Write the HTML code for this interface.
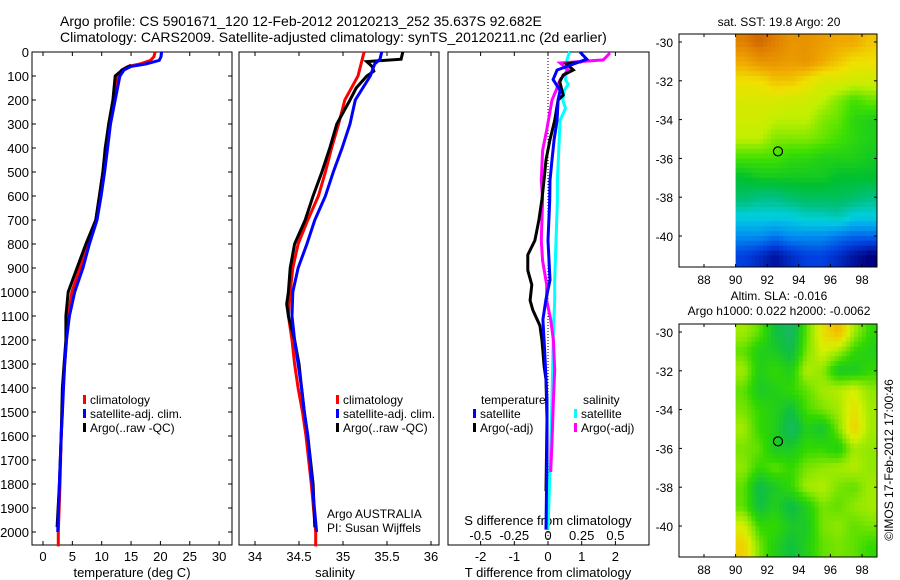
<!DOCTYPE html>
<html><head><meta charset="utf-8">
<style>
html,body{margin:0;padding:0;background:#fff;}
svg{display:block;font-family:"Liberation Sans",sans-serif;}
</style></head>
<body>
<svg id="fig" width="900" height="580" viewBox="0 0 900 580" xmlns="http://www.w3.org/2000/svg">
<text x="60" y="26" font-size="14">Argo profile: CS 5901671_120 12-Feb-2012 20120213_252 35.637S 92.682E</text>
<text x="60" y="42" font-size="14">Climatology: CARS2009. Satellite-adjusted climatology: synTS_20120211.nc (2d earlier)</text>
</svg>
<script>
// ---------- data ----------
const depthTicks = [0,100,200,300,400,500,600,700,800,900,1000,1100,1200,1300,1400,1500,1600,1700,1800,1900,2000];
const tempTicks = [0,5,10,15,20,25,30];
const salTicks = [34,34.5,35,35.5,36];
const salTickLabels = ["34","34.5","35","35.5","36"];
const tdiffTicks = [-2,-1,0,1,2];
const sdiffTicks = [-0.5,-0.25,0,0.25,0.5];
const sdiffTickLabels = ["-0.5","-0.25","0","0.25","0.5"];

const tClimDepth = [0,20,35,50,60,75,100,200,300,400,500,600,700,800,900,1000,1100,1200,1300,1400,1500,1600,1800,2000,2060];
const tClim = [19.1,18.9,18.3,16.5,14.5,13.4,12.8,12.0,11.2,10.7,10.2,9.6,9.0,7.5,6.3,4.9,4.3,4.0,3.7,3.4,3.3,3.1,2.9,2.6,2.6];
const tSatDepth = [0,20,35,50,60,75,100,200,300,400,500,600,700,800,900,1000,1100,1200,1300,1400,1500,1600,1800,2000];
const tSat = [20.2,20.1,19.8,17.5,15.0,13.8,13.1,12.3,11.5,11.0,10.5,9.9,9.2,7.9,6.8,5.4,4.5,4.0,3.7,3.5,3.3,3.1,2.8,2.5];
const tArgoDepth = [55,75,100,200,300,400,500,600,700,800,900,1000,1100,1200,1300,1400,1500,1600,1800,1980];
const tArgo = [15.0,13.5,12.3,11.9,11.2,10.6,10.2,9.6,9.0,7.3,5.8,4.3,3.9,3.9,3.6,3.3,3.2,3.1,2.8,2.4];

const sClimDepth = [0,100,200,300,400,500,600,700,800,900,1000,1100,1200,1300,1400,1500,1600,1800,2000,2060];
const sClim = [35.24,35.17,35.02,34.95,34.87,34.80,34.72,34.60,34.49,34.43,34.40,34.38,34.42,34.45,34.49,34.54,34.58,34.64,34.69,34.69];
const sSatDepth = [0,30,50,100,200,300,400,500,600,700,800,900,1000,1100,1200,1300,1400,1500,1600,1800,2000];
const sSat = [35.44,35.42,35.36,35.31,35.14,35.08,34.99,34.89,34.80,34.68,34.59,34.49,34.43,34.42,34.45,34.49,34.53,34.56,34.60,34.65,34.70];
const sArgoDepth = [0,30,40,60,80,100,150,200,300,400,500,600,700,800,900,1000,1050,1100,1200,1300,1400,1500,1600,1800,1980];
const sArgo = [35.68,35.66,35.27,35.33,35.35,35.27,35.15,35.08,34.93,34.85,34.76,34.66,34.57,34.45,34.40,34.38,34.36,34.38,34.45,34.50,34.53,34.56,34.60,34.66,34.68];

const dTSatDepth = [0,30,75,115,160,200,285,365,450,535,620,785,950,1030,1115,1240,1450,1660,1990];
const dTSat = [0.95,1.15,0.27,0.15,0.36,0.30,0.27,0.18,0.12,0.06,0.05,0.0,0.06,-0.06,-0.15,-0.10,-0.03,-0.03,-0.06];
const dTArgoDepth = [40,50,75,96,125,180,200,285,365,450,535,615,700,785,845,910,970,1035,1075,1140,1200,1245,1305,1365,1530,1830];
const dTArgo = [1.0,0.55,0.75,0.45,0.35,0.45,0.30,0.20,0.06,-0.06,-0.12,-0.18,-0.27,-0.39,-0.60,-0.60,-0.48,-0.53,-0.45,-0.24,-0.18,-0.15,-0.12,-0.06,-0.03,-0.06];
const dSSatDepth = [0,33,115,135,160,200,235,285,535,615,950,1035,1160,1450,1650,1990];
const dSSat = [0.16,0.14,0.13,0.15,0.12,0.11,0.13,0.09,0.07,0.07,0.05,0.05,0.04,0.03,0.02,0.0];
const dSArgoDepth = [4,33,46,75,115,160,200,325,410,535,615,785,870,970,1035,1115,1200,1325,1450,1625,1750];
const dSArgo = [0.46,0.41,0.09,0.15,0.09,0.06,0.03,-0.01,-0.04,-0.05,-0.04,-0.05,-0.04,-0.01,-0.01,0.02,0.04,0.05,0.04,0.03,0.02];

const lonTicks = [88,90,92,94,96,98];
const latTicks = [-30,-32,-34,-36,-38,-40];
const gridLats = [-30,-31,-32,-33,-34,-35,-36,-37,-38,-39,-40,-41];
const gridLons = [90.5,91.5,92.5,93.5,94.5,95.5,96.5,97.5,98.5];
const sstGrid = [
[23.5,24,23.5,23,23,22.8,22.5,22.5,22],
[22.5,23,23,22.8,23,22.5,22,21.5,21.5],
[21.5,21.5,22,22,21.5,21,21,20.8,20.8],
[21,21,21,20.8,20.8,20.5,20,19.5,19.8],
[20.8,20.8,20.5,20.5,20.5,20,19.8,19.2,19],
[20.5,20.5,20,20,20,19.8,19.5,19.2,19],
[19.5,19.5,19.5,19.2,19.2,19,19,19,18.8],
[18.5,18.8,18.8,18.8,18.8,18.8,18.5,18.5,18.5],
[17.8,17.5,17.5,17.8,18,18,18,17.8,17.5],
[16.5,16.5,16.5,16.5,16.8,16.8,17,16.5,16.5],
[15.5,15.5,15.2,15.5,15.5,15.5,15.2,15,15],
[14.5,14.2,13.8,14.2,14.5,14.5,14.2,13.8,13.5]];
const slaGrid = [
[0.05,0.02,-0.05,-0.08,0.02,0.10,0.15,0.05,0.0],
[0.02,-0.02,-0.03,-0.06,0.03,0.08,0.05,0.0,-0.02],
[0.05,-0.02,0.0,-0.02,0.06,0.04,-0.03,-0.03,0.0],
[0.02,-0.03,-0.02,0.0,0.02,0.05,0.06,0.08,0.04],
[0.03,0.0,-0.02,-0.05,0.01,0.03,0.05,0.10,0.05],
[0.05,0.0,-0.02,-0.08,-0.02,-0.04,0.03,0.12,0.05],
[0.03,0.02,-0.03,-0.03,0.0,0.0,-0.02,0.05,0.04],
[0.04,0.0,0.02,0.0,0.03,0.04,0.05,0.06,0.04],
[0.02,-0.06,-0.03,0.0,0.05,0.06,0.03,0.02,0.05],
[0.02,-0.05,-0.02,-0.06,-0.02,0.03,0.02,0.04,0.05],
[0.08,0.0,0.0,-0.03,-0.03,0.03,0.04,0.02,0.03],
[0.12,0.03,-0.02,-0.05,-0.02,0.02,0.03,0.02,0.0]];
const argoLon = 92.682, argoLat = -35.637;

// ---------- helpers ----------
const svg = document.getElementById('fig');
const NS = 'http://www.w3.org/2000/svg';
function mk(tag, attrs, parent){const e=document.createElementNS(NS,tag);for(const k in attrs)e.setAttribute(k,attrs[k]);(parent||svg).appendChild(e);return e;}
function txt(x,y,s,size,anchor,parent){const t=mk('text',{x:x,y:y,'font-size':size||12,'text-anchor':anchor||'start'},parent);t.textContent=s;return t;}

const TOP=52, BOT=545;
const yD = d => 52 + d*0.24;
const xT = t => 43 + t*5.87;
const xS = s => 255 + (s-34)*88;
const xdT = v => 548 + v*33.7;
const xdS = v => 548 + v*134.8;

function line(depths, vals, xf, color, name){
  const pts = depths.map((d,i)=>xf(vals[i]).toFixed(1)+','+yD(d).toFixed(1)).join(' ');
  const p = mk('polyline',{points:pts,fill:'none',stroke:color,'stroke-width':3,'stroke-linejoin':'miter'});
  
  
  return p;
}

// ---------- panel frames ----------
const panels = [[32,232,'temperature-panel'],[239,439,'salinity-panel'],[448,649,'difference-panel']];
panels.forEach(([a,b,n])=>{
  const r = mk('rect',{x:a,y:TOP,width:b-a,height:BOT-TOP,fill:'#fff',stroke:'#000','stroke-width':1});
  
  
});

depthTicks.forEach(d=>{
  const y=yD(d);
  mk('line',{x1:32,y1:y,x2:36,y2:y,stroke:'#000'});
  mk('line',{x1:228,y1:y,x2:232,y2:y,stroke:'#000'});
  const t=txt(29,y+5,String(d),13,'end');
  
  
});
tempTicks.forEach(v=>{
  const x=xT(v);
  mk('line',{x1:x,y1:TOP,x2:x,y2:TOP+4,stroke:'#000'});
  mk('line',{x1:x,y1:BOT,x2:x,y2:BOT-4,stroke:'#000'});
  const t=txt(x,561,String(v),13,'middle');
  
  
});
salTicks.forEach((v,i)=>{
  const x=xS(v);
  mk('line',{x1:x,y1:TOP,x2:x,y2:TOP+4,stroke:'#000'});
  mk('line',{x1:x,y1:BOT,x2:x,y2:BOT-4,stroke:'#000'});
  const t=txt(x,561,salTickLabels[i],13,'middle');
  
  
});
tdiffTicks.forEach(v=>{
  const x=xdT(v);
  mk('line',{x1:x,y1:TOP,x2:x,y2:TOP+4,stroke:'#000'});
  mk('line',{x1:x,y1:BOT,x2:x,y2:BOT-4,stroke:'#000'});
  const t=txt(x,561,String(v),13,'middle');
  
  
});
sdiffTicks.forEach((v,i)=>{
  const t=txt(xdS(v),540,sdiffTickLabels[i],13,'middle');
  
  
});
const z = mk('line',{x1:548,y1:TOP,x2:548,y2:BOT,stroke:'#000','stroke-dasharray':'1,2'});



[[132,577,'temperature (deg C)','x-axis-title-temperature'],[335,577,'salinity','x-axis-title-salinity'],[548,577,'T difference from climatology','x-axis-title-t-diff'],[548,525,'S difference from climatology','x-axis-title-s-diff']].forEach(([x,y,s,n])=>{
  const t=txt(x,y,s,13,'middle');
  
  
});
const au=txt(327,518,'Argo AUSTRALIA',12);


const pi=txt(327,532,'PI: Susan Wijffels',12);



line(tClimDepth,tClim,xT,'#f00','temp-climatology-line');
line(tArgoDepth,tArgo,xT,'#000','temp-argo-line');
line(tSatDepth,tSat,xT,'#00f','temp-satellite-line');
line(sClimDepth,sClim,xS,'#f00','sal-climatology-line');
line(sArgoDepth,sArgo,xS,'#000','sal-argo-line');
line(sSatDepth,sSat,xS,'#00f','sal-satellite-line');
line(dSSatDepth,dSSat,xdS,'#0ff','s-diff-satellite-line');
line(dSArgoDepth,dSArgo,xdS,'#f0f','s-diff-argo-line');
line(dTArgoDepth,dTArgo,xdT,'#000','t-diff-argo-line');
line(dTSatDepth,dTSat,xdT,'#00f','t-diff-satellite-line');

function legend(x,y,color,label,name){
  const g=mk('g',{});
  
  
  mk('rect',{x:x,y:y-9,width:3,height:9,fill:color},g);
  txt(x+7,y,label,12,'start',g);
}
legend(83,404,'#f00','climatology','legend-climatology');
legend(83,418,'#00f','satellite-adj. clim.','legend-satellite');
legend(83,432,'#000','Argo(..raw -QC)','legend-argo');
legend(336,404,'#f00','climatology','legend-sal-climatology');
legend(336,418,'#00f','satellite-adj. clim.','legend-sal-satellite');
legend(336,432,'#000','Argo(..raw -QC)','legend-sal-argo');
const lt=txt(481,404,'temperature',12);


const ls=txt(583,404,'salinity',12);


legend(473,418,'#00f','satellite','legend-t-satellite');
legend(473,432,'#000','Argo(-adj)','legend-t-argo');
legend(574,418,'#0ff','satellite','legend-s-satellite');
legend(574,432,'#f0f','Argo(-adj)','legend-s-argo');

// ---------- maps ----------
function lerpColor(stops, v){
  if(v<=stops[0][0]) return stops[0][1];
  for(let i=1;i<stops.length;i++){
    if(v<=stops[i][0]){
      const [a,ca]=stops[i-1],[b,cb]=stops[i];const f=(v-a)/(b-a);
      const pa=[1,3,5].map(k=>parseInt(ca.substr(k,2),16)),pb=[1,3,5].map(k=>parseInt(cb.substr(k,2),16));
      return 'rgb('+pa.map((c,j)=>Math.round(c+(pb[j]-c)*f)).join(',')+')';
    }
  }
  return stops[stops.length-1][1];
}
const sstStops=[[13.5,'#000080'],[14.5,'#0040e0'],[15.5,'#0090f0'],[16.5,'#00d0e0'],[17.5,'#00c080'],[18.5,'#00c030'],[19.5,'#40e000'],[20.5,'#c0f000'],[21.5,'#f0e000'],[22.5,'#f0a800'],[23.5,'#e08000'],[24.5,'#c05000']];
const slaStops=[[-0.1,'#20b080'],[-0.05,'#10c040'],[0.0,'#30d800'],[0.04,'#90e800'],[0.08,'#d8f000'],[0.12,'#f0d000'],[0.16,'#f0b000']];

function sample(grid, lon, lat){
  // bilinear interpolation between grid centres
  let fj=(lon-gridLons[0]); let fi=(gridLats[0]-lat);
  fj=Math.max(0,Math.min(gridLons.length-1,fj)); fi=Math.max(0,Math.min(gridLats.length-1,fi));
  const j0=Math.min(Math.floor(fj),gridLons.length-2), i0=Math.min(Math.floor(fi),gridLats.length-2);
  const tx=fj-j0, ty=fi-i0;
  const a=grid[i0][j0],b=grid[i0][j0+1],c=grid[i0+1][j0],d=grid[i0+1][j0+1];
  return a*(1-tx)*(1-ty)+b*tx*(1-ty)+c*(1-tx)*ty+d*tx*ty;
}

function drawMap(top, grid, stops, name){
  const L=679,R=877,B=top+233;
  const xL = lon => 704 + (lon-88)*15.8;
  const yL = lat => (top+8) + (-30-lat)*19.4;
  const g=mk('g',{});
  
  
  const clip=mk('clipPath',{id:'c'+name},g);
  mk('rect',{x:L,y:top,width:R-L,height:B-top},clip);
  const cg=mk('g',{'clip-path':'url(#c'+name+')'},g);
  const step=0.25;
  for(let lat=-29.5; lat>-42; lat-=step){
    for(let lon=90; lon<99.2; lon+=step){
      const v=sample(grid, lon+step/2, lat-step/2);
      const c=mk('rect',{x:xL(lon).toFixed(1),y:yL(lat).toFixed(1),width:(15.8*step+0.5).toFixed(1),height:(19.4*step+0.5).toFixed(1),fill:lerpColor(stops,v)},cg);
      
      
    }
  }
  mk('rect',{x:L,y:top,width:R-L,height:B-top,fill:'none',stroke:'#000'},g);
  lonTicks.forEach(v=>{const x=xL(v);mk('line',{x1:x,y1:B,x2:x,y2:B-3,stroke:'#000'},g);mk('line',{x1:x,y1:top,x2:x,y2:top+3,stroke:'#000'},g);
    const t=txt(x,B+17,String(v),12,'middle',g);});
  latTicks.forEach(v=>{const y=yL(v);mk('line',{x1:L,y1:y,x2:L+3,y2:y,stroke:'#000'},g);mk('line',{x1:R,y1:y,x2:R-3,y2:y,stroke:'#000'},g);
    const t=txt(673,y+5,String(v),12,'end',g);});
  const m=mk('circle',{cx:xL(argoLon),cy:yL(argoLat),r:4.5,fill:'none',stroke:'#000','stroke-width':1.2},g);
  
  
}
drawMap(34, sstGrid, sstStops, 'sst-map');
drawMap(324, slaGrid, slaStops, 'sla-map');
const t1=txt(779,26,'sat. SST: 19.8 Argo: 20',12,'middle');


const t2=txt(779,300,'Altim. SLA: -0.016',12,'middle');


const t3=txt(779,315,'Argo h1000: 0.022 h2000: -0.0062',12,'middle');


const cp=txt(0,0,'©IMOS 17-Feb-2012 17:00:46',12,'middle');
cp.setAttribute('transform','translate(893,460) rotate(-90)');


</script>
</body></html>
